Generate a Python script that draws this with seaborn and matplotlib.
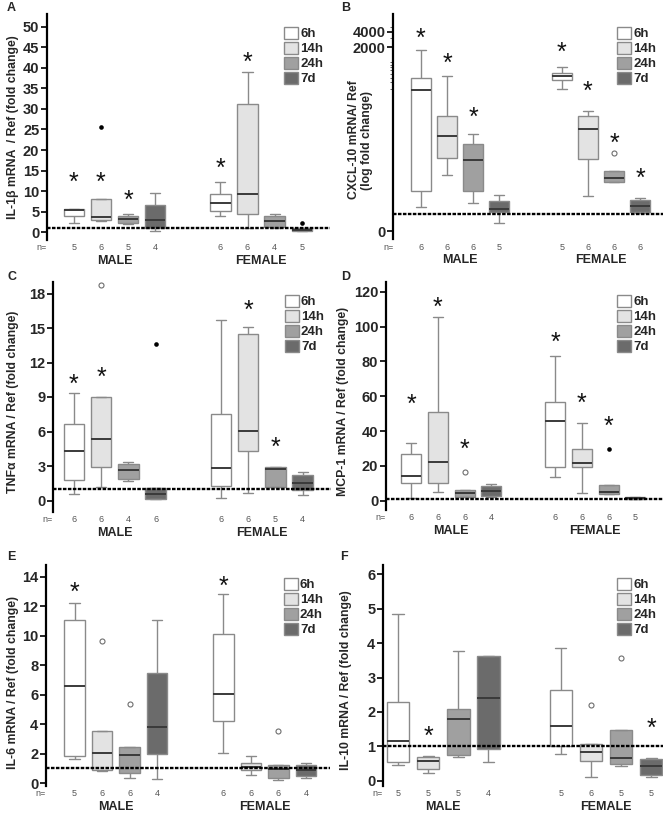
import numpy as np
import pandas as pd
import matplotlib
matplotlib.use("Agg")
import matplotlib.pyplot as plt
import matplotlib.transforms as mtransforms
from matplotlib.patches import Patch
from matplotlib.ticker import FixedLocator, NullFormatter
import seaborn as sns

# ----------------------------
# Data
# ----------------------------
sexes = ["MALE", "FEMALE"]
times = ["6h", "14h", "24h", "7d"]
time_colors = ["#ffffff", "#e3e3e3", "#a0a0a0", "#6b6b6b"]

# each group: whisker low, Q1, median, Q3, whisker high
# group order: male 6h, 14h, 24h, 7d, female 6h, 14h, 24h, 7d
il1b_box = [
    [2.2, 4.0, 5.3, 5.7, 5.7], [2.7, 2.9, 3.6, 8.1, 8.1],
    [1.9, 2.3, 3.1, 4.0, 4.4], [0.4, 0.9, 2.9, 6.6, 9.6],
    [4.0, 5.1, 7.2, 9.3, 12.1], [1.1, 4.5, 9.2, 31.3, 39.0],
    [1.0, 1.2, 2.8, 4.0, 4.4], [0.3, 0.4, 0.6, 0.9, 1.0],
]
il1b_n = [5, 6, 5, 4, 6, 6, 4, 5]
il1b_stars = [13.6, 13.6, 9.2, None, 17.0, 43.0, None, None]
il1b_open = []
il1b_filled = [(1, 25.7), (7, 2.3)]

cxcl10_box = [
    [1.37, 2.8, 280, 498, 1718], [6.0, 12.8, 34.3, 87.5, 545],
    [1.65, 2.9, 11.6, 23.9, 38.7], [0.665, 1.08, 1.27, 1.77, 2.37],
    [302, 454, 529, 606, 807], [2.23, 12.5, 48.6, 87.5, 108],
    [4.2, 4.2, 5.1, 7.1, 7.1], [1.05, 1.08, 1.46, 1.91, 2.07],
]
cxcl10_n = [6, 6, 6, 5, 5, 6, 6, 6]
cxcl10_stars = [3940, 1270, 108, None, 2150, 352, 33.8, 6.9]
cxcl10_open = [(6, 16.1)]
cxcl10_filled = []

tnfa_box = [
    [0.58, 1.74, 4.30, 6.65, 9.35], [1.16, 2.87, 5.34, 9.0, 9.0],
    [1.68, 1.89, 2.61, 3.19, 3.37], [0.09, 0.09, 0.58, 1.1, 1.1],
    [0.2, 1.25, 2.82, 7.52, 15.7], [0.67, 4.27, 6.04, 14.5, 15.1],
    [1.16, 1.16, 2.76, 2.9, 2.9], [0.52, 0.87, 1.51, 2.18, 2.47],
]
tnfa_n = [6, 6, 4, 6, 6, 6, 5, 4]
tnfa_stars = [10.7, 11.3, None, None, None, 17.1, 5.2, None]
tnfa_open = [(1, 18.7)]
tnfa_filled = [(3, 13.65)]

mcp1_box = [
    [1.3, 10.3, 14.35, 27.0, 33.3], [5.2, 10.3, 22.4, 50.9, 105.3],
    [1.9, 2.3, 4.2, 6.3, 6.3], [2.1, 2.9, 5.55, 8.6, 9.8],
    [13.4, 19.3, 45.9, 56.5, 83.3], [4.2, 19.3, 21.4, 29.5, 44.6],
    [4.0, 4.0, 5.2, 8.8, 8.8], [0.8, 1.0, 1.4, 1.8, 2.0],
]
mcp1_n = [6, 6, 6, 4, 6, 6, 6, 5]
mcp1_stars = [59.3, 115, 32.9, None, 94.7, 59.7, 46.3, None]
mcp1_open = [(2, 16.7)]
mcp1_filled = [(6, 29.7)]

il6_box = [
    [1.6, 1.83, 6.58, 11.09, 12.24], [0.81, 0.86, 2.01, 3.53, 3.53],
    [0.32, 0.70, 1.88, 2.47, 2.47], [0.25, 1.99, 3.8, 7.49, 11.06],
    [2.01, 4.19, 6.04, 10.14, 12.8], [0.57, 0.9, 1.09, 1.33, 1.81],
    [0.18, 0.32, 0.93, 1.22, 1.22], [0.32, 0.45, 0.88, 1.22, 1.33],
]
il6_n = [5, 6, 6, 4, 6, 6, 6, 4]
il6_stars = [13.4, None, None, None, 13.8, None, None, None]
il6_open = [(1, 9.64), (2, 5.36), (6, 3.55)]
il6_filled = []

il10_box = [
    [0.47, 0.54, 1.16, 2.30, 4.86], [0.24, 0.33, 0.58, 0.70, 0.73],
    [0.70, 0.74, 1.79, 2.10, 3.78], [0.56, 0.92, 2.42, 3.62, 3.63],
    [0.77, 1.0, 1.58, 2.63, 3.85], [0.12, 0.58, 0.83, 1.08, 1.08],
    [0.42, 0.48, 0.65, 1.48, 1.48], [0.1, 0.17, 0.42, 0.62, 0.65],
]
il10_n = [5, 5, 5, 4, 5, 6, 5, 5]
il10_stars = [None, 1.47, None, None, None, None, None, 1.7]
il10_open = [(5, 2.2), (6, 3.57)]
il10_filled = []

# ----------------------------
# Layout (pixel boxes: left, top, right, bottom)
# ----------------------------
W, H = 666, 818
panels = [
    dict(letter="A", lxy=(7, 8), rect=(47, 14, 330, 240), xlim=(-0.46, 1.47),
         ylabel="IL-1β mRNA  / Ref (fold change)", lab=(28, 0.5),
         box=il1b_box, n=il1b_n, stars=il1b_stars, open=il1b_open, filled=il1b_filled,
         yticks=np.arange(0, 51, 5), ylim=(-1.9, 53.1), log=False),
    dict(letter="B", lxy=(341, 8), rect=(393, 14, 663, 239), xlim=(-0.476, 1.44),
         ylabel="CXCL-10 mRNA/ Ref\n(log fold change)", lab=(20, 0.44),
         box=cxcl10_box, n=cxcl10_n, stars=cxcl10_stars, open=cxcl10_open, filled=cxcl10_filled,
         yticks=[0.456, 2000, 4000], ylim=(0.32, 9060), log=True),
    dict(letter="C", lxy=(7, 277), rect=(53, 282, 331, 512), xlim=(-0.42, 1.47),
         ylabel="TNFα mRNA / Ref (fold change)", lab=(34, 0.48),
         box=tnfa_box, n=tnfa_n, stars=tnfa_stars, open=tnfa_open, filled=tnfa_filled,
         yticks=np.arange(0, 19, 3), ylim=(-1.0, 19.0), log=False),
    dict(letter="D", lxy=(341, 277), rect=(386, 282, 663, 510), xlim=(-0.453, 1.47),
         ylabel="MCP-1 mRNA / Ref (fold change)", lab=(37, 0.475),
         box=mcp1_box, n=mcp1_n, stars=mcp1_stars, open=mcp1_open, filled=mcp1_filled,
         yticks=np.arange(0, 121, 20), ylim=(-5.4, 125.7), log=False),
    dict(letter="E", lxy=(7, 557), rect=(46, 565, 330, 786), xlim=(-0.47, 1.44),
         ylabel="IL-6 mRNA / Ref (fold change)", lab=(27, 0.467),
         box=il6_box, n=il6_n, stars=il6_stars, open=il6_open, filled=il6_filled,
         yticks=np.arange(0, 15, 2), ylim=(-0.2, 14.8), log=False),
    dict(letter="F", lxy=(340, 557), rect=(383, 565, 663, 786), xlim=(-0.37, 1.35),
         ylabel="IL-10 mRNA / Ref (fold change)", lab=(31, 0.48),
         box=il10_box, n=il10_n, stars=il10_stars, open=il10_open, filled=il10_filled,
         yticks=np.arange(0, 7, 1), ylim=(-0.15, 6.27), log=False),
]

step = 0.185
offsets = [(t - 1.5) * step for t in range(4)]


def pos(g):
    s, t = divmod(g, 4)
    return s + offsets[t]


sns.set_style("white")
plt.rcParams["font.family"] = ["Liberation Sans", "DejaVu Sans"]

fig = plt.figure(figsize=(W / 100, H / 100), dpi=100)


def draw_panel(p):
    l, t, r, b = p["rect"]
    wpx, hpx = r - l, b - t
    ax = fig.add_axes([l / W, 1 - b / H, wpx / W, hpx / H])

    rows = []
    for g, vals in enumerate(p["box"]):
        for v in vals:
            rows.append({"pos": pos(g), "time": times[g % 4], "value": v})
    df = pd.DataFrame(rows)

    sns.boxplot(
        data=df, x="pos", y="value", hue="time", hue_order=times,
        palette=dict(zip(times, time_colors)), native_scale=True, dodge=False,
        width=0.75, whis=(0, 100), showfliers=False, linecolor="#8a8a8a",
        linewidth=1.0, medianprops={"color": "#3a3a3a", "linewidth": 1.4},
        log_scale=(False, True) if p["log"] else None, legend=False, ax=ax,
    )

    # outliers (open) and extremes (filled)
    if p["open"]:
        sns.scatterplot(x=[pos(g) for g, _ in p["open"]], y=[v for _, v in p["open"]],
                        ax=ax, s=13, color="white", edgecolor="#6e6e6e", linewidth=0.8, zorder=5)
    if p["filled"]:
        sns.scatterplot(x=[pos(g) for g, _ in p["filled"]], y=[v for _, v in p["filled"]],
                        ax=ax, s=11, color="black", linewidth=0, zorder=5)

    # significance stars
    for g, y in enumerate(p["stars"]):
        if y is not None:
            ax.annotate("*", (pos(g), y), xytext=(0, -5), textcoords="offset points",
                        ha="center", va="center", fontsize=18, color="#111111")

    ax.axhline(1, color="black", lw=1.7, ls=(0, (1.5, 0.6)), zorder=6)

    ax.set_xlim(*p["xlim"])
    ax.set_ylim(*p["ylim"])
    sns.despine(ax=ax, bottom=True)
    ax.spines["left"].set_linewidth(1.6)
    ax.spines["left"].set_color("black")

    ax.set_xticks([0, 1])
    ax.set_xticklabels(sexes, fontsize=9, fontweight="bold")
    ax.tick_params(axis="x", length=0, pad=10.5)
    ax.set_xlabel("")

    ax.set_yticks(p["yticks"])
    if p["log"]:
        ax.set_yticklabels(["0", "2000", "4000"])
        minors = list(range(300, 1000, 100)) + list(range(1000, 6000, 1000))
        ax.yaxis.set_minor_locator(FixedLocator(minors))
        ax.yaxis.set_minor_formatter(NullFormatter())
        ax.tick_params(axis="y", which="minor", left=True, length=2, width=0.6, color="#444444")
    else:
        ax.set_yticklabels([str(int(v)) for v in p["yticks"]])
    for lab in ax.get_yticklabels():
        lab.set_fontweight("bold")
        lab.set_fontsize(10.5)
    ax.tick_params(axis="y", which="major", left=True, length=4, width=1.2, pad=1.5, color="black")

    ax.set_ylabel(p["ylabel"], fontsize=8.8, fontweight="bold", linespacing=1.1)
    ax.yaxis.set_label_coords(-p["lab"][0] / wpx, p["lab"][1])

    # n= row
    trans = mtransforms.blended_transform_factory(ax.transData, ax.transAxes)
    ny = -8 / hpx
    ax.text(-0.018, ny, "n=", transform=ax.transAxes, ha="center", va="center",
            fontsize=6.5, color="#555555")
    for g, n in enumerate(p["n"]):
        ax.text(pos(g), ny, str(n), transform=trans, ha="center", va="center",
                fontsize=6.5, color="#555555")

    handles = [Patch(facecolor=c, edgecolor="#8a8a8a", linewidth=1.0) for c in time_colors]
    ax.legend(handles, times, loc="upper right",
              bbox_to_anchor=(1 - 7 / wpx, 1 - 13 / hpx), frameon=False,
              prop={"weight": "bold", "size": 9.5}, handlelength=1.1, handleheight=1.0,
              handletextpad=0.12, labelspacing=0.12, borderaxespad=0, borderpad=0)

    fig.text(p["lxy"][0] / W, 1 - p["lxy"][1] / H, p["letter"], ha="left", va="center",
             fontsize=9, fontweight="bold")


for p in panels:
    draw_panel(p)

fig.savefig("out.png", dpi=100)
